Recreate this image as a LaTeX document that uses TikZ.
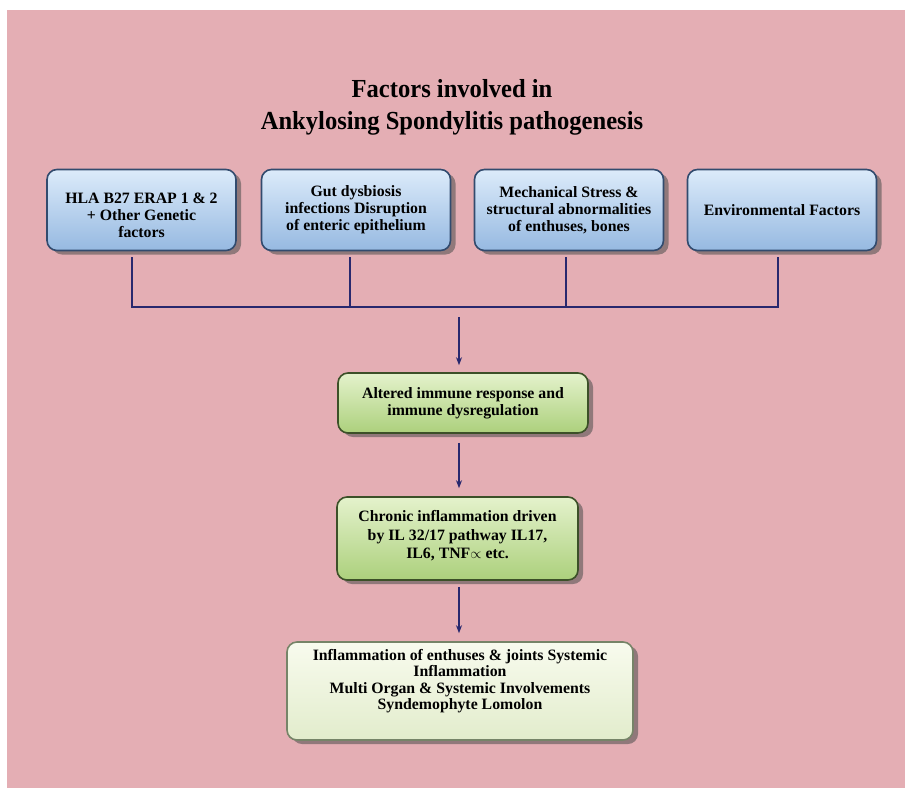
\documentclass[tikz,border=0pt]{standalone}
\usepackage{fontspec}
\setmainfont{Liberation Serif}
\usetikzlibrary{shadows,arrows.meta}
\definecolor{bgpink}{RGB}{228,174,180}
\definecolor{navy}{RGB}{40,40,110}
\definecolor{bluetop}{RGB}{220,235,250}
\definecolor{bluebot}{RGB}{150,185,225}
\definecolor{blueedge}{RGB}{50,75,110}
\definecolor{greentop}{RGB}{228,242,204}
\definecolor{greenbot}{RGB}{172,208,124}
\definecolor{greenedge}{RGB}{60,80,40}
\definecolor{paletop}{RGB}{248,251,238}
\definecolor{palebot}{RGB}{226,236,204}
\newcommand\toppad[1]{\rule{0pt}{#1}}
\begin{document}
\begin{tikzpicture}[x=1pt,y=-1pt,
  box/.style={draw, line width=1.6pt, rounded corners=10pt, align=center,
    font=\bfseries\fontsize{15.8}{17}\selectfont, inner sep=2pt,
    drop shadow={shadow xshift=5pt, shadow yshift=-4pt, opacity=0.55, fill=black!70}},
  bluebox/.style={box, draw=blueedge, top color=bluetop, bottom color=bluebot,
    minimum width=189pt, minimum height=81pt},
  greenbox/.style={box, draw=greenedge, top color=greentop, bottom color=greenbot},
  palebox/.style={box, draw=greenedge!70, top color=paletop, bottom color=palebot},
  conn/.style={draw=navy, line width=2.2pt},
  arr/.style={conn, -{Stealth[length=8pt,width=6pt]}}]
\useasboundingbox (0,0) rectangle (905,788);
\fill[white] (0,0) rectangle (905,788);
\fill[bgpink] (7,10) rectangle (905,788);

\node[font=\bfseries\fontsize{26}{32}\selectfont, align=center] (title) at (452,107)
  {\scalebox{0.945}[1]{Factors involved in}\\\scalebox{0.945}[1]{Ankylosing Spondylitis pathogenesis}};

\node[bluebox] (b1) at (141.5,210) {\toppad{21pt}HLA B27 ERAP 1 \& 2\\+ Other Genetic\\factors};
\node[bluebox] (b2) at (356,210) {Gut dysbiosis\\infections Disruption\\of enteric epithelium};
\node[bluebox] (b3) at (569,210) {Mechanical Stress \&\\structural abnormalities\\of enthuses, bones};
\node[bluebox] (b4) at (782,210) {Environmental Factors};

\node[greenbox, minimum width=250pt, minimum height=60pt] (g1) at (463,403)
  {Altered immune response and\\immune dysregulation};
\node[greenbox, minimum width=241pt, minimum height=83pt] (g2) at (457.5,538.5)
  {Chronic inflammation driven\\[1.5pt]by IL 32/17 pathway IL17,\\[1.5pt]IL6, TNF$\propto$ etc.\\[-9pt]};
\node[palebox, minimum width=346pt, minimum height=98pt,
  font=\bfseries\fontsize{15.8}{16.3}\selectfont] (p1) at (460,691)
  {Inflammation of enthuses \& joints Systemic\\Inflammation\\Multi Organ \& Systemic Involvements\\Syndemophyte Lomolon\\[7pt]};

\coordinate (j) at (459,307);
\coordinate (j1) at (132,307);
\coordinate (j4) at (778,307);
\draw[conn] ([xshift=-9.5pt,yshift=-6pt]b1.south) -- (j1) -- (j4) -- ([xshift=-4pt,yshift=-6pt]b4.south);
\draw[conn] ([xshift=-6pt,yshift=-6pt]b2.south) -- ([xshift=-6pt]b2.south |- j);
\draw[conn] ([xshift=-3pt,yshift=-6pt]b3.south) -- ([xshift=-3pt]b3.south |- j);
\draw[arr] ([yshift=-10pt]j) -- ([yshift=7pt]g1.north -| j);
\draw[arr] ([yshift=-9pt]g1.south -| j) -- ([yshift=8pt]g2.north -| j);
\draw[arr] ([yshift=-6pt]g2.south -| j) -- ([yshift=8pt]p1.north -| j);
\end{tikzpicture}
\end{document}
